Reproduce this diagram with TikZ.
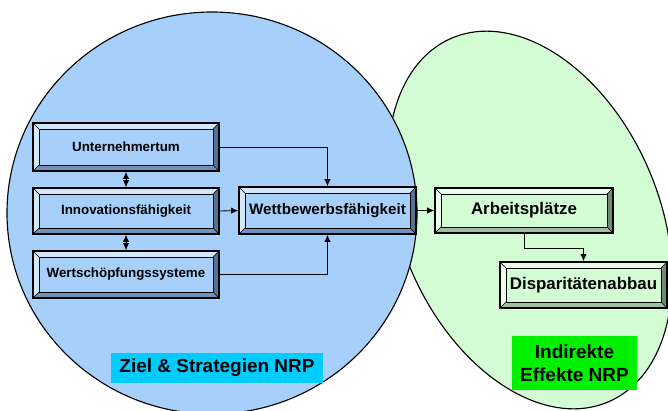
\documentclass[tikz,border=0pt]{standalone}
\usepackage{fontspec}
\setsansfont{Liberation Sans}
\usetikzlibrary{positioning,calc,arrows.meta}

\definecolor{zielblue}{RGB}{166,208,250}
\definecolor{effgreen}{RGB}{212,252,212}
\definecolor{bluelight}{RGB}{212,232,252}
\definecolor{bluemid}{RGB}{112,146,190}
\definecolor{bluedark}{RGB}{84,114,150}
\definecolor{greenlight}{RGB}{234,252,234}
\definecolor{greenmid}{RGB}{160,190,160}
\definecolor{greendark}{RGB}{112,140,112}
\definecolor{zieltag}{RGB}{0,204,255}
\definecolor{efftag}{RGB}{0,240,0}

\begin{document}
\begin{tikzpicture}
  [>={Latex[length=5pt,width=4.5pt]}, x=0.025cm, y=0.025cm,
   block/.style n args={4}{draw, line width=1.1pt, fill=#1, font=\sffamily\bfseries,
     path picture={
       \fill[#2] (path picture bounding box.north west) -- (path picture bounding box.north east)
         -- ([shift={(-6,-6)}]path picture bounding box.north east) -- ([shift={(6,-6)}]path picture bounding box.north west)
         -- ([shift={(6,6)}]path picture bounding box.south west) -- (path picture bounding box.south west) -- cycle;
       \fill[#3] (path picture bounding box.south west) -- (path picture bounding box.south east)
         -- ([shift={(-6,6)}]path picture bounding box.south east) -- ([shift={(6,6)}]path picture bounding box.south west) -- cycle;
       \fill[#4] (path picture bounding box.south east) -- (path picture bounding box.north east)
         -- ([shift={(-6,-6)}]path picture bounding box.north east) -- ([shift={(-6,6)}]path picture bounding box.south east) -- cycle;
       \draw[line width=0.5pt] ([shift={(6,-6)}]path picture bounding box.north west) rectangle ([shift={(-6,6)}]path picture bounding box.south east);
       \draw[line width=0.4pt] (path picture bounding box.north west) -- ++(6,-6)
         (path picture bounding box.north east) -- ++(-6,-6)
         (path picture bounding box.south west) -- ++(6,6)
         (path picture bounding box.south east) -- ++(-6,6);
     }},
   blueblock/.style={block={zielblue}{bluelight}{bluemid}{bluedark}},
   greenblock/.style={block={effgreen}{greenlight}{greenmid}{greendark}},
   tag/.style={fill=#1, font=\sffamily\bfseries\fontsize{13.5}{16.4}\selectfont, align=center}]

  \useasboundingbox (0,0) rectangle (668,410);

  \filldraw[fill=effgreen, line width=0.8pt, rotate around={23.4:(530,190)}] (530,190) ellipse [x radius=129, y radius=198];
  \filldraw[fill=zielblue, line width=0.8pt] (212,197) ellipse [x radius=205, y radius=201];

  \node[blueblock, minimum width=4.65cm, minimum height=1.2cm] (unt) at (126,263) {\fontsize{9.5}{11}\selectfont Unternehmertum};
  \node[blueblock, minimum width=4.65cm, minimum height=1.15cm] (inn) at (126,199) {\fontsize{9.5}{11}\selectfont Innovationsfähigkeit};
  \node[blueblock, minimum width=4.65cm, minimum height=1.175cm] (wert) at (126,135.5) {\fontsize{9.5}{11}\selectfont Wertschöpfungssysteme};
  \node[blueblock, minimum width=4.425cm, minimum height=1.175cm] (wett) at (327.5,199.5) {\fontsize{10.8}{12}\selectfont Wettbewerbsfähigkeit};
  \node[greenblock, minimum width=4.45cm, minimum height=1.125cm] (arb) at (524,199.5) {\fontsize{12}{14}\selectfont Arbeitsplätze};
  \node[greenblock, minimum width=4.175cm, minimum height=1.15cm] (disp) at (583.5,125) {\fontsize{12}{14}\selectfont Disparitätenabbau};

  \draw[<->, line width=0.6pt] (unt) -- (inn);
  \draw[<->, line width=0.6pt] (inn) -- (wert);
  \draw[->, line width=0.6pt] (unt.east) -| (wett.north);
  \draw[->, line width=0.6pt] (inn.east) -- (wett.west);
  \draw[->, line width=0.6pt] (wert.east) -| (wett.south);
  \draw[->, line width=0.6pt] (wett.east) -- (arb.west);
  \draw[->, line width=0.6pt] (arb.south) -- ++(0,-15) -| (disp.north);

  % labels of the two fields
  \node[tag=zieltag, minimum width=5.3cm, minimum height=0.75cm] (ziel) at (217,42) {Ziel \& Strategien NRP};
  \node[tag=efftag, minimum width=3.125cm, minimum height=1.35cm] (eff) at (574.5,47) {Indirekte\\Effekte NRP};
\end{tikzpicture}
\end{document}
